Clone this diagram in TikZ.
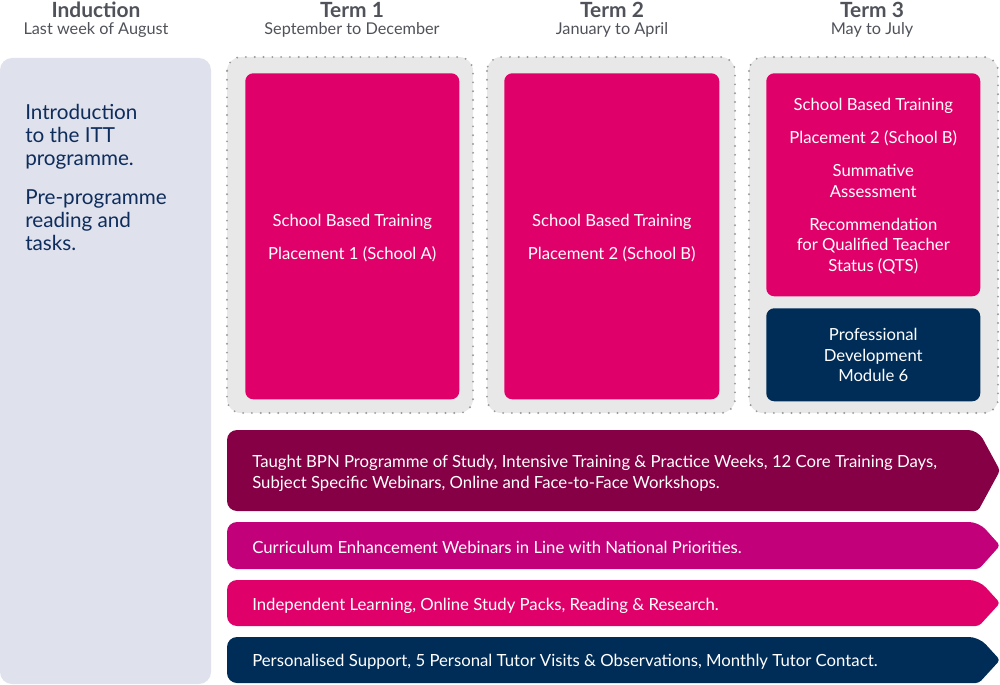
\documentclass[tikz,border=0pt]{standalone}
\usepackage{fontspec}
\setmainfont{Lato}
\definecolor{hdrgrey}{HTML}{505259}
\definecolor{indbg}{HTML}{DFE1EC}
\definecolor{indtext}{HTML}{0E2D5C}
\definecolor{termbgc}{HTML}{E8E8E8}
\definecolor{dotc}{HTML}{9A9A9A}
\definecolor{pinkc}{HTML}{E0006A}
\definecolor{navyc}{HTML}{002D58}
\definecolor{maroonc}{HTML}{850045}
\definecolor{magentac}{HTML}{C2007A}
\begin{document}
\begin{tikzpicture}[x=0.75pt,y=-0.75pt,
  hdr/.style={text=hdrgrey, font=\fontsize{15.7}{17}\selectfont\bfseries},
  sub/.style={text=hdrgrey, font=\fontsize{12.2}{14}\selectfont},
  termbg/.style={fill=termbgc, draw=dotc, line width=1.6pt, dash pattern=on 0pt off 6.6pt, line cap=round, rounded corners=10.5pt},
  inner/.style={rounded corners=6pt, anchor=north west, inner sep=0pt},
  innertext/.style={text=white, align=center, inner sep=0pt, yshift=-1.3pt,
     font=\fontsize{12.5}{15.4}\selectfont},
  rowtext/.style={text=white, align=left, anchor=west, inner sep=0pt, font=\fontsize{12.55}{15.75}\selectfont},
]
\useasboundingbox (0,0) rectangle (1000,685);

% headers
\node[hdr] (h0) at (96,10) {Induction};
\node[sub] (s0) at (96,30) {Last week of August};
\node[hdr] (h1) at (352,10) {Term 1};
\node[sub] (s1) at (352,30) {September to December};
\node[hdr] (h2) at (612,10) {Term 2};
\node[sub] (s2) at (612,30) {January to April};
\node[hdr] (h3) at (872,10) {Term 3};
\node[sub] (s3) at (872,30) {May to July};

% induction box
\path[fill=indbg, rounded corners=9pt] (0,58) rectangle (211,684);
\node[text=indtext, align=left, anchor=north west, inner sep=0pt,
  font=\fontsize{15.5}{17.25}\selectfont] (ind) at (25,104)
  {Introduction\\to the ITT\\programme.\\[12pt]Pre-programme\\reading and\\tasks.};

% term backgrounds
\path[termbg] (227,57) rectangle (473,413);
\path[termbg] (487,57) rectangle (735,413);
\path[termbg] (749,57) rectangle (998,413);

% inner boxes
\node[inner, fill=pinkc, minimum width=160.5pt, minimum height=244.5pt] (p1) at (245,73) {};
\node[innertext] (p1t) at (p1.center) {School Based Training\\[9.4pt]Placement 1 (School A)};
\node[inner, fill=pinkc, minimum width=161.25pt, minimum height=244.5pt] (p2) at (504,73) {};
\node[innertext] (p2t) at (p2.center) {School Based Training\\[9.4pt]Placement 2 (School B)};
\node[inner, fill=pinkc, minimum width=160.5pt, minimum height=167.25pt] (p3) at (766,73) {};
\node[innertext, yshift=0.5pt] (p3t) at (p3.center)
  {School Based Training\\[9.4pt]Placement 2 (School B)\\[9.4pt]Summative\\Assessment\\[9.4pt]Recommendation\\for Qualified Teacher\\Status (QTS)};
\node[inner, fill=navyc, minimum width=160.5pt, minimum height=69.75pt] (pd) at (766,308) {};
\node[innertext, yshift=1pt] (pdt) at (pd.center) {Professional\\Development\\Module 6};

% rows
\path[fill=maroonc] (227,470) [rounded corners=7.5pt] -- (227,430) -- (978,430) [rounded corners=2.5pt] -- (1000,470.5) -- (978,511) [rounded corners=7.5pt] -- (227,511) -- cycle;
\node[rowtext] (r1) at (252,473.5) {Taught BPN Programme of Study, Intensive Training \& Practice Weeks, 12 Core Training Days,\\Subject Specific Webinars, Online and Face-to-Face Workshops.};

\path[fill=magentac] (227,545) [rounded corners=7.5pt] -- (227,522) -- (979,522) [rounded corners=2.5pt] -- (1000,545.5) -- (979,569) [rounded corners=7.5pt] -- (227,569) -- cycle;
\node[rowtext] (r2) at (252,547.5) {Curriculum Enhancement Webinars in Line with National Priorities.};

\path[fill=pinkc] (227,603) [rounded corners=7.5pt] -- (227,580) -- (979,580) [rounded corners=2.5pt] -- (1000,603) -- (979,626) [rounded corners=7.5pt] -- (227,626) -- cycle;
\node[rowtext] (r3) at (252,605.5) {Independent Learning, Online Study Packs, Reading \& Research.};

\path[fill=navyc] (227,660) [rounded corners=7.5pt] -- (227,637) -- (979,637) [rounded corners=2.5pt] -- (1000,660) -- (979,683) [rounded corners=7.5pt] -- (227,683) -- cycle;
\node[rowtext] (r4) at (252,661.5) {Personalised Support, 5 Personal Tutor Visits \& Observations, Monthly Tutor Contact.};
\end{tikzpicture}
\end{document}
